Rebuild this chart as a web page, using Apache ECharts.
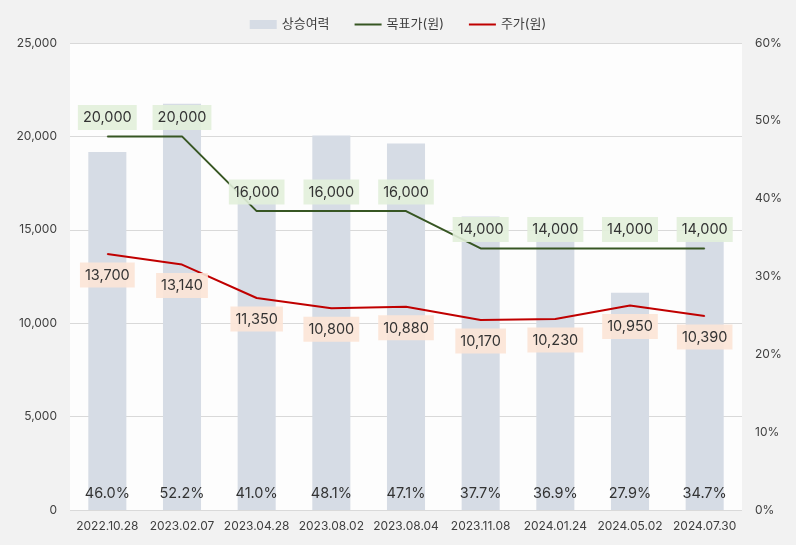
<!DOCTYPE html>
<html><head><meta charset="utf-8">
<script src="https://cdn.jsdelivr.net/npm/echarts@6/dist/echarts.min.js"></script>
<style>html,body{margin:0;padding:0;background:#f2f2f2;}#c{width:796px;height:545px;}</style>
</head><body><div id="c"></div>
<script>
const categories = ['2022.10.28','2023.02.07','2023.04.28','2023.08.02','2023.08.04','2023.11.08','2024.01.24','2024.05.02','2024.07.30'];
const upside = [46.0, 52.2, 41.0, 48.1, 47.1, 37.7, 36.9, 27.9, 34.7];
const targetPrice = [20000, 20000, 16000, 16000, 16000, 14000, 14000, 14000, 14000];
const stockPrice = [13700, 13140, 11350, 10800, 10880, 10170, 10230, 10950, 10390];

const FONT = 'Inter, "Noto Sans CJK KR", sans-serif';
const chart = echarts.init(document.getElementById('c'));
chart.setOption({
  backgroundColor: '#f2f2f2',
  textStyle: {fontFamily: FONT},
  legend: {
    top: 13, left: 'center', itemGap: 24, itemWidth: 27, itemHeight: 9,
    textStyle: {fontFamily: FONT, fontSize: 13, color: '#404040'},
    data: [
      {name: '상승여력', icon: 'rect'},
      {name: '목표가(원)', itemStyle: {opacity: 0}},
      {name: '주가(원)', itemStyle: {opacity: 0}}
    ]
  },
  grid: {left: 70, right: 54, top: 43, bottom: 35, show: true, backgroundColor: '#fdfdfd', borderWidth: 0},
  xAxis: {
    type: 'category', data: categories,
    axisLine: {show: false}, axisTick: {show: false},
    axisLabel: {fontFamily: FONT, fontSize: 12, color: '#404040', margin: 10, interval: 0}
  },
  yAxis: [
    {type: 'value', min: 0, max: 25000, interval: 5000,
     axisLine: {show: false}, axisTick: {show: false},
     splitLine: {lineStyle: {color: '#d9d9d9', width: 1}},
     axisLabel: {fontFamily: FONT, fontSize: 12, color: '#404040', margin: 13,
       formatter: v => v.toLocaleString('en-US')}},
    {type: 'value', min: 0, max: 60, interval: 10,
     axisLine: {show: false}, axisTick: {show: false}, splitLine: {show: false},
     axisLabel: {fontFamily: FONT, fontSize: 12, color: '#404040', margin: 13,
       formatter: v => v + '%'}}
  ],
  series: [
    {name: '상승여력', type: 'bar', yAxisIndex: 1, data: upside, barWidth: '51%',
     itemStyle: {color: '#d6dce5'},
     label: {show: true, position: 'insideBottom', distance: 9, fontFamily: FONT, fontSize: 14.5, color: '#333333',
       formatter: p => p.value.toFixed(1) + '%'}},
    {name: '목표가(원)', type: 'line', data: targetPrice, symbol: 'circle', symbolSize: 1, showSymbol: true,
     lineStyle: {color: '#375623', width: 2}, itemStyle: {color: '#375623'},
     label: {show: true, position: 'top', distance: 6, fontFamily: FONT, fontSize: 14.5, color: '#333333',
       lineHeight: 16, backgroundColor: 'rgba(226,239,218,0.9)', padding: [5, 5, 4, 5],
       formatter: p => p.value.toLocaleString('en-US')}},
    {name: '주가(원)', type: 'line', data: stockPrice, symbol: 'circle', symbolSize: 1, showSymbol: true,
     lineStyle: {color: '#c00000', width: 2}, itemStyle: {color: '#c00000'},
     label: {show: true, position: 'bottom', distance: 8, fontFamily: FONT, fontSize: 14.5, color: '#333333',
       lineHeight: 16, backgroundColor: 'rgba(252,228,214,0.9)', padding: [5, 5, 4, 5],
       formatter: p => p.value.toLocaleString('en-US')}}
  ]
});
</script></body></html>
